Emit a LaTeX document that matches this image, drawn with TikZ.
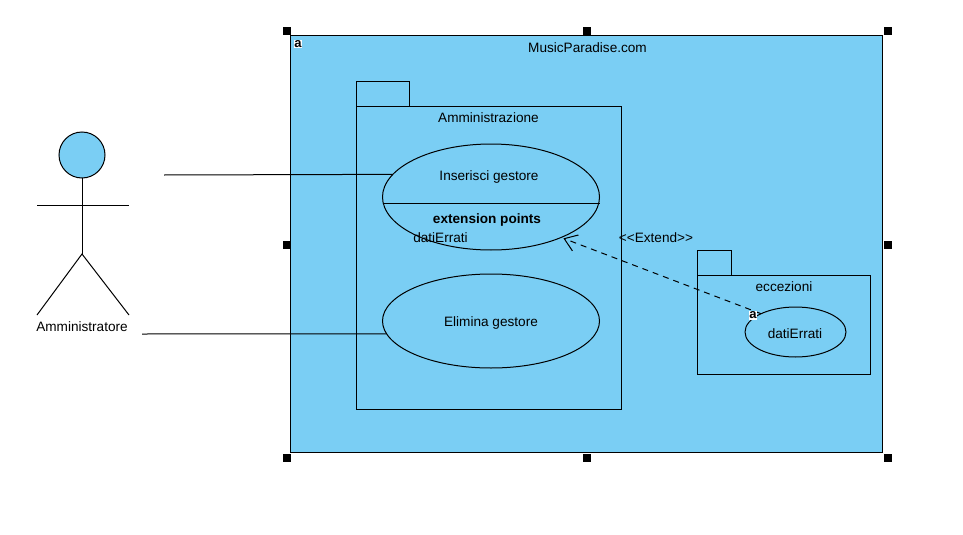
\documentclass[tikz,border=0pt]{standalone}
\usepackage{fontspec}
\setmainfont{Liberation Sans}
\usetikzlibrary{arrows.meta, positioning, shapes.geometric}

\tikzset{
	box/.style = {draw, rectangle, anchor = north west, inner sep = 0pt, outer sep = 0pt},
	usecase/.style = {draw, ellipse, inner sep = 0pt, outer sep = 0pt},
	handle/.style = {fill = black, rectangle, inner sep = 0pt, minimum size = 8pt},
	mark icon/.style = {fill = white, inner sep = 0.8pt, font = \fontsize{13}{13}\selectfont\bfseries},
	label text/.style = {inner sep = 0pt, font = \fontsize{13.6}{15}\selectfont}
}

\begin{document}
\begin{tikzpicture} [x = 1pt, y = -1pt, line width = 1pt]
\useasboundingbox (0,0) rectangle (963,535);

\definecolor{ucblue}{HTML}{7ACEF4}

% system
\node (sys) [box, fill = ucblue, minimum width = 592pt, minimum height = 416pt] at (290.5,36) {};
\node (sysname) [label text] at (587.5,47.5) {MusicParadise.com};
\node (sysicon) [mark icon] at (298,44) {a};

% handles
\node (h1) [handle] at (287,31) {};
\node (h2) [handle] at (587,31) {};
\node (h3) [handle] at (888,31) {};
\node (h4) [handle] at (287,244.5) {};
\node (h5) [handle] at (888,244.5) {};
\node (h6) [handle] at (287,458) {};
\node (h7) [handle] at (587,458) {};
\node (h8) [handle] at (888,458) {};

% packages
\node (admintab) [box, minimum width = 53pt, minimum height = 25pt] at (356.5,81.5) {};
\node (adminpkg) [box, minimum width = 265pt, minimum height = 303pt] at (356.5,106.5) {};
\node (adminname) [label text] at (488.5,118) {Amministrazione};
\node (ecctab) [box, minimum width = 34pt, minimum height = 25pt] at (697,250.5) {};
\node (eccpkg) [box, minimum width = 173pt, minimum height = 99pt] at (697,275.5) {};
\node (eccname) [label text] at (784,287) {eccezioni};

% use cases
\node (ins) [usecase, fill = ucblue, minimum width = 217pt, minimum height = 106pt] at (491,197) {};
\node (elim) [usecase, fill = ucblue, minimum width = 217pt, minimum height = 94pt] at (491,321) {};
\node (dati) [usecase, fill = ucblue, minimum width = 101pt, minimum height = 50pt] at (795.5,332) {};
\draw (ins.west |- 0,203) -- (ins.east |- 0,203);
\node (instext) [label text] at (489,176.5) {Inserisci gestore};
\node (extpts) [label text, font = \fontsize{13.6}{15}\selectfont\bfseries] at (487,220) {extension points};
\node (extdati) [label text] at (440.5,238) {datiErrati};
\node (elimtext) [label text] at (491,322.5) {Elimina gestore};
\node (datitext) [label text] at (795,334) {datiErrati};

% actor
\node (head) [draw, circle, fill = ucblue, minimum size = 46pt, inner sep = 0pt, outer sep = 0pt] at (82,155) {};
\coordinate (hip) at (82,254);
\coordinate (armL) at (37,205);
\coordinate (armR) at (129,205);
\coordinate (footL) at (37,315);
\coordinate (footR) at (129,315);
\draw (head) -- (hip);
\draw (armL) -- (armR);
\draw (footL) -- (hip) -- (footR);
\node (actor) [label text] at (82,327) {Amministratore};

% connectors
\coordinate (assocA) at (164,175);
\coordinate (assocB) at (142,334);
\draw (assocA) -- (ins.167.7);
\draw (assocB) -- (elim.187);
\draw [dashed, dash pattern = on 6pt off 5pt, shorten > = 2.5pt, -{Straight Barb[length = 12pt, width = 17pt]}]
	(dati.152) -- (ins.-30);
\node (extlabel) [label text] at (656,238) {<{}<Extend>{}>};
\node (daticon) [mark icon] at (753,315.5) {a};
\end{tikzpicture}
\end{document}
